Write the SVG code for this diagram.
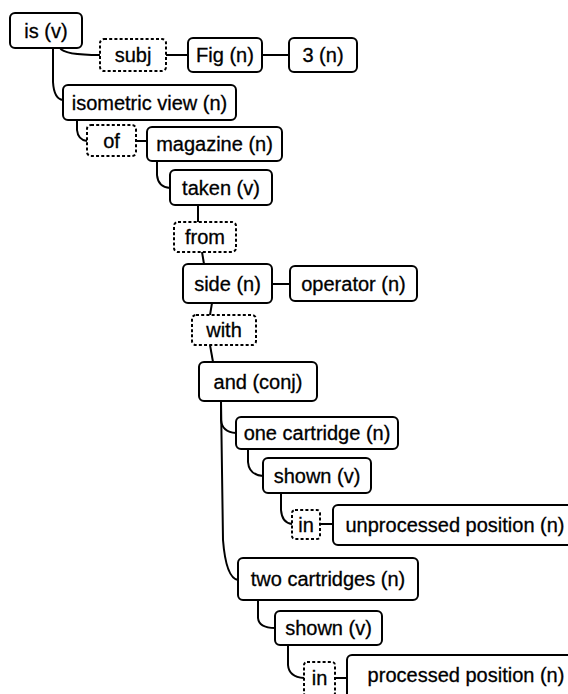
<svg xmlns="http://www.w3.org/2000/svg" width="568" height="694" viewBox="0 0 568 694">
<style>
.n rect{fill:#fff;stroke:#000;stroke-width:2}
.d rect{fill:#fff;stroke:#000;stroke-width:2;stroke-dasharray:3 2.2}
text{font-family:"Liberation Sans",Arial,Helvetica,sans-serif;font-size:20px;fill:#000;stroke:#000;stroke-width:0.3;text-anchor:middle}
#connectors path{fill:none;stroke:#000;stroke-width:2}
</style>
<rect width="568" height="694" fill="#fff"/>
<g id="connectors">
<path d="M60,48 Q64,55 100,55"/>
<path d="M166,55 H188"/>
<path d="M262,55 H289"/>
<path d="M53,48 V82 Q54,99 63,100"/>
<path d="M77,120 V130 Q78,140 87,141"/>
<path d="M136,141 H147"/>
<path d="M157,161 V175 Q158,187 170,188"/>
<path d="M198,205 V222"/>
<path d="M202,252 L204,264"/>
<path d="M272,284 H290"/>
<path d="M212,303 L210,315"/>
<path d="M210,345 L213,362"/>
<path d="M221,401 V420 Q222,432 236,433"/>
<path d="M221,401 L223,540 Q226,578 238,580"/>
<path d="M248,449 V462 Q249,475 263,476"/>
<path d="M281,493 V510 Q282,523 292,524"/>
<path d="M320,524 H333"/>
<path d="M258,600 V618 Q259,628 275,628"/>
<path d="M288,645 V665 Q289,677 304,678"/>
<path d="M335,678 H347"/>
</g>
<g id="is" class="n"><rect x="10" y="13" width="72" height="35" rx="5"/><text x="46" y="38">is (v)</text></g>
<g id="subj" class="d"><rect x="100" y="39" width="66" height="32" rx="4"/><text x="133" y="62">subj</text></g>
<g id="fig" class="n"><rect x="188" y="38" width="74" height="34" rx="5"/><text x="225" y="62">Fig (n)</text></g>
<g id="three" class="n"><rect x="289" y="38" width="68" height="34" rx="5"/><text x="323" y="62">3 (n)</text></g>
<g id="isometric" class="n"><rect x="63" y="85" width="173" height="35" rx="5"/><text x="149.5" y="110">isometric view (n)</text></g>
<g id="of" class="d"><rect x="87" y="125" width="49" height="31" rx="4"/><text x="111.5" y="148">of</text></g>
<g id="magazine" class="n"><rect x="147" y="127" width="135" height="34" rx="5"/><text x="214.5" y="151">magazine (n)</text></g>
<g id="taken" class="n"><rect x="170" y="170" width="102" height="35" rx="5"/><text x="221" y="195">taken (v)</text></g>
<g id="from" class="d"><rect x="174" y="222" width="62" height="30" rx="4"/><text x="205" y="244">from</text></g>
<g id="side" class="n"><rect x="183" y="264" width="89" height="39" rx="5"/><text x="227.5" y="291">side (n)</text></g>
<g id="operator" class="n"><rect x="290" y="266" width="127" height="35" rx="5"/><text x="353.5" y="291">operator (n)</text></g>
<g id="with" class="d"><rect x="192" y="315" width="64" height="30" rx="4"/><text x="224" y="337">with</text></g>
<g id="and" class="n"><rect x="199" y="362" width="118" height="39" rx="5"/><text x="258" y="389">and (conj)</text></g>
<g id="one-cartridge" class="n"><rect x="236" y="417" width="162" height="32" rx="5"/><text x="317" y="440">one cartridge (n)</text></g>
<g id="shown1" class="n"><rect x="263" y="458" width="108" height="35" rx="5"/><text x="317" y="483">shown (v)</text></g>
<g id="in1" class="d"><rect x="292" y="510" width="28" height="29" rx="3"/><text x="306" y="532">in</text></g>
<g id="unprocessed" class="n"><rect x="333" y="505" width="262" height="40" rx="5"/><text x="455" y="532">unprocessed position (n)</text></g>
<g id="two-cartridges" class="n"><rect x="238" y="558" width="180" height="42" rx="5"/><text x="328" y="586">two cartridges (n)</text></g>
<g id="shown2" class="n"><rect x="275" y="611" width="107" height="34" rx="5"/><text x="328.5" y="635">shown (v)</text></g>
<g id="in2" class="d"><rect x="304" y="662" width="31" height="34" rx="3"/><text x="319.5" y="685">in</text></g>
<g id="processed" class="n"><rect x="347" y="655" width="238" height="50" rx="5"/><text x="466" y="682">processed position (n)</text></g>
</svg>
